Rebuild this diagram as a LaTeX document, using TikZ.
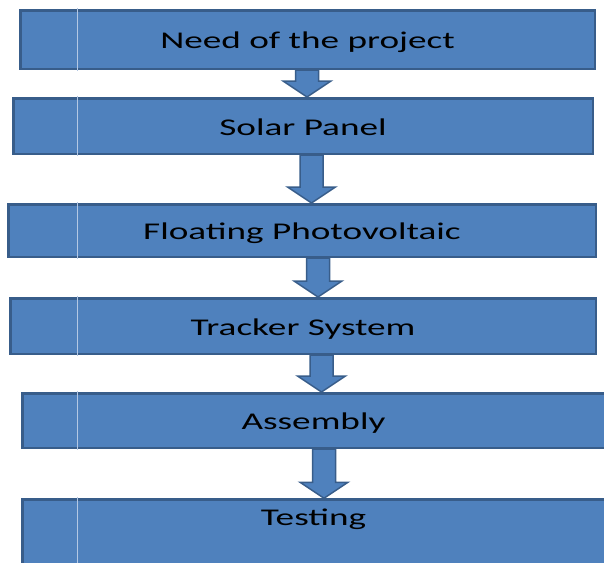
\documentclass[tikz,border=0pt]{standalone}
\usepackage{fontspec}
\newfontfamily\stagefont[FakeStretch=1.55]{Carlito}
\usetikzlibrary{calc}

\definecolor{stageblue}{HTML}{4F81BD}
\definecolor{stageedge}{HTML}{385D8A}
\definecolor{sepblue}{HTML}{B4C8E4}

% block arrow from the bottom of #1 to the top of #2, centred on x = #3
\newcommand{\flowarrow}[3]{%
  \draw[conn] let \p1=(#1.south), \p2=(#2.north) in
    (#3-11.5,\y1) -- (#3+11.5,\y1) -- (#3+11.5,\y2+16) -- (#3+24,\y2+16)
    -- (#3,\y2) -- (#3-24,\y2+16) -- (#3-11.5,\y2+16) -- cycle;}

\begin{document}
\begin{tikzpicture}[x=1pt, y=1pt,
    stage/.style={rectangle, draw=stageedge, line width=2.5pt, fill=stageblue, inner sep=0pt, text height=20pt, text depth=2pt, font=\stagefont\fontsize{24}{28}\selectfont},
    conn/.style={draw=stageedge, line width=1.5pt, fill=stageblue, line join=miter},
    sepline/.style={draw=sepblue, line width=0.8pt}
]
\useasboundingbox (0,0) rectangle (604,-562);
\clip (0,0) rectangle (604,-562);

\node[stage, minimum width=574.5pt, minimum height=58.5pt] (need) at (307.5,-39.5) {Need of the project};
\node[stage, minimum width=579.5pt, minimum height=55.5pt] (solar) at (303,-126) {Solar Panel};
\node[stage, minimum width=587.5pt, minimum height=52.5pt] (floating) at (302,-230.5) {Floating Photovoltaic};
\node[stage, minimum width=585.5pt, minimum height=55.5pt] (tracker) at (303,-326) {Tracker System};
\node[stage, minimum width=582.5pt, minimum height=54.5pt] (assembly) at (313.5,-420.5) {Assembly};
\node[stage, minimum width=582.5pt, anchor=north, text height=26pt, text depth=80pt] (testing) at (313.5,-498.25) {Testing};

% thin rule near the left end of every box
\coordinate (sep) at (77,0);
\foreach \b in {need,solar,floating,tracker,assembly,testing}
  \draw[sepline] ($(sep |- \b.north)+(0,1.25)$) -- ($(sep |- \b.south)-(0,1.25)$);

\flowarrow{need}{solar}{307}
\flowarrow{solar}{floating}{311.5}
\flowarrow{floating}{tracker}{318}
\flowarrow{tracker}{assembly}{321.5}
\flowarrow{assembly}{testing}{324}
\end{tikzpicture}
\end{document}
